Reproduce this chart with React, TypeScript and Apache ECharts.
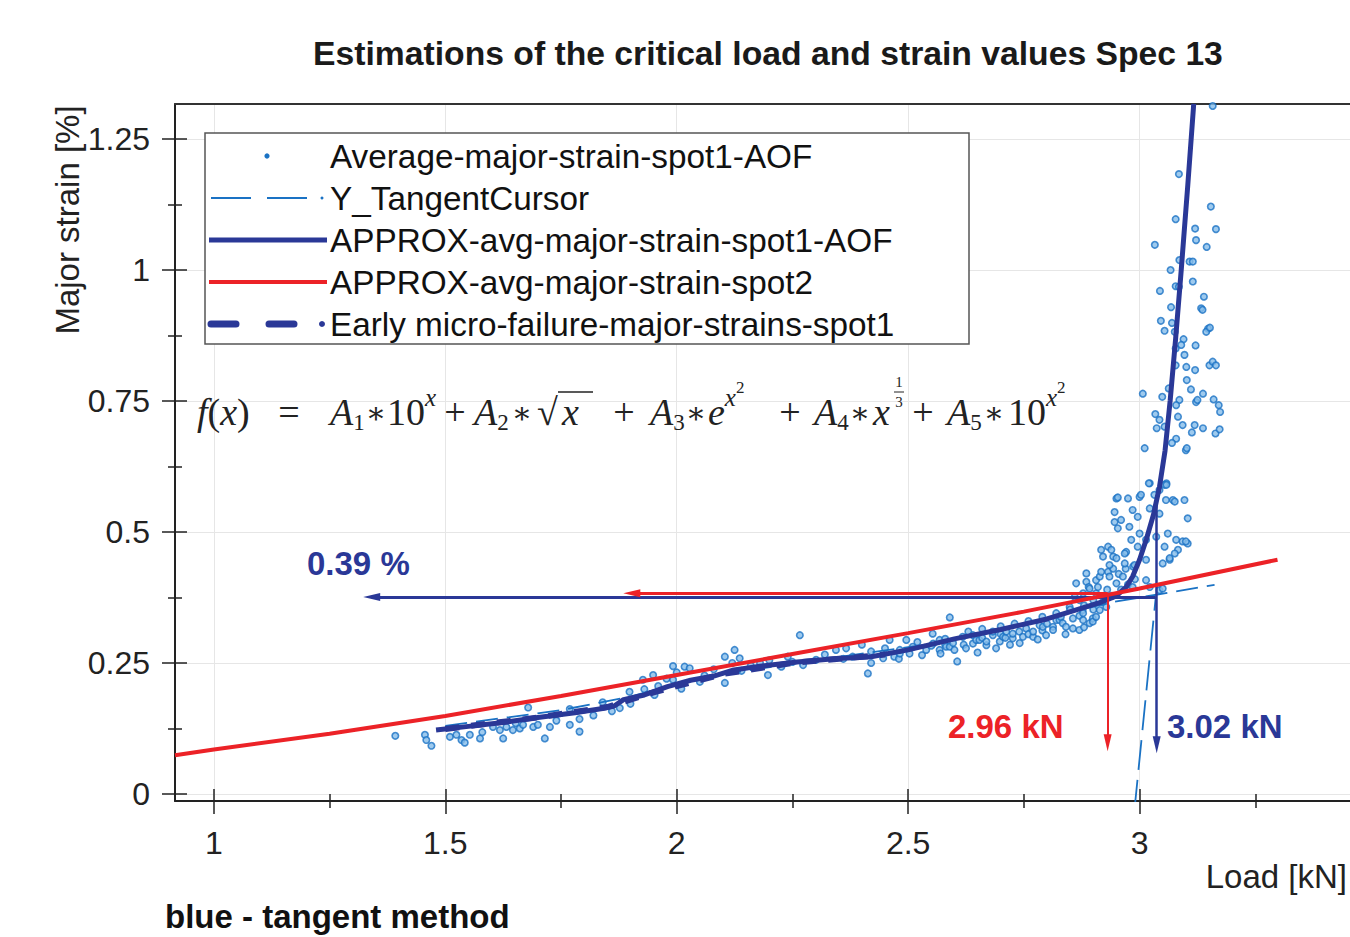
import React, { useEffect, useRef } from "react";
import * as echarts from "echarts";

const TITLE = "Estimations of the critical load and strain values Spec 13";
const X_NAME = "Load [kN]";
const Y_NAME = "Major strain [%]";
const NOTE = "blue - tangent method";

const X_RANGE = [0.916, 3.5];
const Y_RANGE = [-0.0134, 1.3168];
const X_MAJOR = [1, 1.5, 2, 2.5, 3];
const X_MINOR = [1.25, 1.75, 2.25, 2.75, 3.25];
const Y_MAJOR = [0, 0.25, 0.5, 0.75, 1, 1.25];
const Y_MINOR = [0.125, 0.375, 0.625, 0.875, 1.125];

const LEGEND_NAMES = [
  "Average-major-strain-spot1-AOF",
  "Y_TangentCursor",
  "APPROX-avg-major-strain-spot1-AOF",
  "APPROX-avg-major-strain-spot2",
  "Early micro-failure-major-strains-spot1",
];

// measured points: [load kN, major strain %]
const scatterAOF: [number, number][] = [
  [1.392, 0.111], [1.456, 0.113], [1.459, 0.103], [1.47, 0.092], [1.51, 0.109], [1.524, 0.113], [1.535, 0.103],
  [1.542, 0.098], [1.553, 0.113], [1.575, 0.106], [1.58, 0.118], [1.603, 0.128], [1.618, 0.122], [1.625, 0.106],
  [1.632, 0.128], [1.646, 0.122], [1.652, 0.135], [1.661, 0.125], [1.668, 0.132], [1.679, 0.165], [1.69, 0.128],
  [1.7, 0.132], [1.715, 0.106], [1.726, 0.128], [1.74, 0.14], [1.769, 0.132], [1.769, 0.162], [1.79, 0.119],
  [1.79, 0.143], [1.82, 0.15], [1.84, 0.175], [1.86, 0.158], [1.877, 0.164], [1.898, 0.195], [1.9, 0.172],
  [1.927, 0.218], [1.93, 0.2], [1.949, 0.227], [1.952, 0.189], [1.96, 0.206], [1.978, 0.22], [1.992, 0.244],
  [1.992, 0.218], [2.0, 0.232], [2.01, 0.201], [2.017, 0.243], [2.028, 0.24], [2.05, 0.214], [2.06, 0.226],
  [2.08, 0.238],
  [2.104, 0.262], [2.104, 0.212], [2.12, 0.25], [2.125, 0.275], [2.136, 0.259], [2.14, 0.235], [2.16, 0.245],
  [2.18, 0.25], [2.197, 0.227], [2.2, 0.255], [2.226, 0.243], [2.24, 0.262], [2.25, 0.252], [2.266, 0.303],
  [2.273, 0.246], [2.301, 0.256], [2.32, 0.266], [2.344, 0.275], [2.36, 0.258], [2.366, 0.278], [2.38, 0.262],
  [2.4, 0.285], [2.413, 0.23], [2.42, 0.272], [2.42, 0.25], [2.446, 0.259], [2.45, 0.278], [2.46, 0.294],
  [2.47, 0.262], [2.48, 0.258], [2.482, 0.268], [2.482, 0.275], [2.496, 0.294], [2.503, 0.268], [2.51, 0.281],
  [2.52, 0.29], [2.53, 0.265], [2.539, 0.275], [2.553, 0.306], [2.554, 0.287], [2.55, 0.283], [2.568, 0.294],
  [2.568, 0.275], [2.57, 0.268], [2.58, 0.296], [2.58, 0.285], [2.582, 0.281], [2.59, 0.337], [2.59, 0.281],
  [2.597, 0.288], [2.6, 0.275], [2.606, 0.253],
  [2.618, 0.3], [2.62, 0.285], [2.625, 0.278], [2.63, 0.31], [2.64, 0.287], [2.64, 0.303], [2.647, 0.294],
  [2.65, 0.27], [2.654, 0.294], [2.66, 0.315], [2.66, 0.298], [2.669, 0.284], [2.669, 0.291], [2.683, 0.303],
  [2.683, 0.31], [2.69, 0.278], [2.698, 0.291], [2.7, 0.32], [2.7, 0.305], [2.705, 0.3], [2.71, 0.298],
  [2.712, 0.31], [2.72, 0.285], [2.726, 0.297], [2.726, 0.306], [2.73, 0.325], [2.74, 0.31], [2.741, 0.288],
  [2.748, 0.3], [2.755, 0.316], [2.76, 0.33], [2.76, 0.305], [2.77, 0.3], [2.77, 0.31], [2.78, 0.295],
  [2.784, 0.322], [2.79, 0.338], [2.79, 0.312], [2.791, 0.319], [2.798, 0.303], [2.8, 0.325], [2.813, 0.319],
  [2.813, 0.313], [2.82, 0.345], [2.82, 0.332], [2.827, 0.332], [2.83, 0.338], [2.834, 0.326], [2.84, 0.305],
  [2.841, 0.319], [2.849, 0.357], [2.85, 0.352], [2.856, 0.335], [2.856, 0.316], [2.86, 0.376], [2.863, 0.402],
  [2.87, 0.313], [2.87, 0.34], [2.87, 0.37], [2.877, 0.351], [2.878, 0.332], [2.878, 0.345], [2.878, 0.383],
  [2.88, 0.36], [2.88, 0.318], [2.885, 0.421], [2.885, 0.405], [2.89, 0.395], [2.892, 0.326], [2.892, 0.392],
  [2.899, 0.335], [2.899, 0.329], [2.9, 0.37], [2.9, 0.352], [2.906, 0.338], [2.906, 0.408], [2.906, 0.383],
  [2.91, 0.395], [2.914, 0.351], [2.914, 0.415], [2.917, 0.424], [2.92, 0.366], [2.928, 0.357], [2.93, 0.39],
  [2.932, 0.424], [2.935, 0.415], [2.94, 0.378], [2.943, 0.43], [2.95, 0.402], [2.955, 0.42], [2.96, 0.39],
  [2.964, 0.415], [2.97, 0.43], [2.975, 0.4], [2.985, 0.395], [2.99, 0.41], [3.014, 0.408], [3.022, 0.395],
  [3.043, 0.389], [3.05, 0.392],
  [2.917, 0.466], [2.932, 0.472], [2.943, 0.453], [2.971, 0.462], [2.986, 0.434], [2.95, 0.564], [2.975, 0.564],
  [3.0, 0.567], [3.022, 0.593], [3.043, 0.58], [3.058, 0.593], [3.072, 0.561], [3.097, 0.561], [3.104, 0.526],
  [3.093, 0.482], [3.104, 0.478], [3.083, 0.466], [3.065, 0.447], [3.011, 0.66], [3.1, 0.656], [3.054, 0.59],
  [2.953, 0.566], [3.003, 0.571], [3.032, 0.571], [3.057, 0.561], [3.076, 0.558], [2.946, 0.538], [2.96, 0.523],
  [2.985, 0.542], [2.996, 0.529], [3.022, 0.545], [3.043, 0.535], [2.946, 0.519], [2.953, 0.507], [2.978, 0.51],
  [3.0, 0.497], [2.982, 0.485], [2.996, 0.472], [2.968, 0.459], [3.014, 0.485], [3.036, 0.491], [3.054, 0.472],
  [3.061, 0.497], [3.079, 0.485], [3.076, 0.459], [3.1, 0.482], [2.921, 0.453], [2.939, 0.466], [2.95, 0.45],
  [2.935, 0.437], [2.968, 0.44], [2.989, 0.437], [3.014, 0.447], [3.05, 0.44], [3.065, 0.45],
  [3.158, 1.313], [3.085, 1.183], [3.154, 1.121], [3.078, 1.097], [3.12, 1.079], [3.165, 1.078], [3.122, 1.057],
  [3.145, 1.044], [3.033, 1.048], [3.086, 1.019], [3.108, 1.016], [3.115, 1.016], [3.067, 1.0], [3.115, 0.978],
  [3.044, 0.96], [3.078, 0.969], [3.085, 0.968], [3.139, 0.949], [3.068, 0.929], [3.133, 0.927], [3.136, 0.924],
  [3.046, 0.903], [3.07, 0.899], [3.054, 0.884], [3.148, 0.888], [3.144, 0.882], [3.152, 0.89], [3.076, 0.882],
  [3.095, 0.868], [3.09, 0.857], [3.121, 0.856], [3.078, 0.85], [3.097, 0.838], [3.078, 0.818], [3.101, 0.815],
  [3.12, 0.809], [3.151, 0.818], [3.158, 0.825], [3.165, 0.818], [3.102, 0.79], [3.111, 0.772], [3.063, 0.774],
  [3.007, 0.764], [3.049, 0.758], [3.137, 0.764], [3.16, 0.753], [3.122, 0.748], [3.125, 0.752], [3.086, 0.752],
  [3.079, 0.742], [3.171, 0.742], [3.174, 0.729], [3.034, 0.725], [3.043, 0.714], [3.037, 0.698], [3.054, 0.701],
  [3.083, 0.72], [3.093, 0.704], [3.119, 0.704], [3.113, 0.69], [3.137, 0.698], [3.164, 0.688], [3.173, 0.696],
  [3.079, 0.678], [3.07, 0.67], [3.102, 0.66], [3.02, 0.593], [3.058, 0.59],
];

const approxAOF: [number, number][] = [
  [1.48, 0.122], [1.55, 0.129], [1.62, 0.136], [1.7, 0.146], [1.78, 0.155], [1.84, 0.163], [1.865, 0.168],
  [1.885, 0.18], [1.93, 0.189], [1.98, 0.205], [2.03, 0.217], [2.08, 0.225], [2.12, 0.236], [2.18, 0.244],
  [2.26, 0.252], [2.34, 0.258], [2.42, 0.262], [2.5, 0.275], [2.6, 0.296], [2.7, 0.314], [2.8, 0.334],
  [2.914, 0.365], [2.95, 0.378], [2.971, 0.395], [2.985, 0.415], [3.0, 0.447], [3.015, 0.487], [3.03, 0.533],
  [3.043, 0.586], [3.055, 0.655], [3.066, 0.75], [3.078, 0.87], [3.09, 1.0], [3.104, 1.16], [3.117, 1.317],
];

const approxSpot2: [number, number][] = [
  [0.916, 0.074], [1.0, 0.085], [1.25, 0.115], [1.5, 0.149], [1.75, 0.187], [2.0, 0.227], [2.25, 0.267],
  [2.5, 0.307], [2.75, 0.348], [3.0, 0.392], [3.298, 0.447],
];

const tangentShallow: [number, number][] = [
  [1.5, 0.13], [1.75, 0.16], [1.9, 0.186], [2.05, 0.222], [2.3, 0.255], [2.6, 0.293], [2.94, 0.366], [3.162, 0.399],
];
const tangentSteep: [number, number][] = [[2.989, -0.03], [3.035, 0.376]];

const earlyMicro: [number, number][] = [
  [1.5, 0.124], [1.7, 0.146], [1.85, 0.166], [1.95, 0.194], [2.1, 0.229], [2.25, 0.25], [2.45, 0.266],
];

// critical-value arrows: [from, to]
const arrowBlueH: [number, number][] = [[3.035, 0.376], [1.341, 0.376]];
const arrowBlueV: [number, number][] = [[3.037, 0.57], [3.037, 0.094]];
const arrowRedH: [number, number][] = [[2.931, 0.383], [1.903, 0.383]];
const arrowRedV: [number, number][] = [[2.931, 0.383], [2.931, 0.098]];

const LABEL_STRAIN = "0.39 %";
const LABEL_RED = "2.96 kN";
const LABEL_BLUE = "3.02 kN";

const C_SCATTER = "#1a72c4";
const C_DARK = "#2a3897";
const C_RED = "#ec2227";
const SANS = "'Liberation Sans', Arial, sans-serif";
const SERIF = "'Liberation Serif', 'DejaVu Serif', serif";

function tickAxis(dim: "x" | "y", values: number[], inside: boolean, length: number) {
  const r = dim === "x" ? X_RANGE : Y_RANGE;
  return {
    type: "value",
    min: r[0],
    max: r[1],
    position: dim === "x" ? "bottom" : "left",
    axisLine: { show: false, onZero: false },
    axisTick: { show: true, inside, length, customValues: values, lineStyle: { color: "#222", width: 1.5 } },
    axisLabel: { show: false },
    splitLine: { show: false },
  };
}

function buildOption() {
  const mainX = {
    type: "value",
    min: X_RANGE[0],
    max: X_RANGE[1],
    position: "bottom",
    axisLine: { show: true, onZero: false, lineStyle: { color: "#222", width: 2 } },
    axisTick: { show: true, inside: false, length: 13, customValues: X_MAJOR, lineStyle: { color: "#222", width: 1.5 } },
    axisLabel: { show: true, customValues: X_MAJOR, margin: 26, fontSize: 32, color: "#222", fontFamily: SANS },
    splitLine: { show: true, lineStyle: { color: "#e6e6e6", width: 1 } },
  };
  const topX = {
    type: "value",
    min: X_RANGE[0],
    max: X_RANGE[1],
    position: "top",
    axisLine: { show: true, onZero: false, lineStyle: { color: "#333", width: 2 } },
    axisTick: { show: false },
    axisLabel: { show: false },
    splitLine: { show: false },
  };
  const mainY = {
    type: "value",
    min: Y_RANGE[0],
    max: Y_RANGE[1],
    position: "left",
    axisLine: { show: true, onZero: false, lineStyle: { color: "#222", width: 2 } },
    axisTick: { show: true, inside: false, length: 13, customValues: Y_MAJOR, lineStyle: { color: "#222", width: 1.5 } },
    axisLabel: { show: true, customValues: Y_MAJOR, margin: 25, fontSize: 32, color: "#222", fontFamily: SANS },
    splitLine: { show: true, lineStyle: { color: "#e6e6e6", width: 1 } },
  };

  const base = { fontFamily: SERIF, fill: "#222", verticalAlign: "middle" };
  const eqRich: any = {
    i: { ...base, fontSize: 38, fontStyle: "italic" },
    u: { ...base, fontSize: 38 },
    op: { ...base, fontSize: 30 },
    sub: { ...base, fontSize: 23, padding: [20, 0, 0, 0] },
    sup: { ...base, fontSize: 25, fontStyle: "italic", padding: [0, 0, 30, 0] },
    sup2: { ...base, fontSize: 17, padding: [0, 0, 50, 0] },
  };
  // [x, text, align]
  const eqPieces: [number, string, string][] = [
    [197, "{i|f}{u|(}{i|x}{u|)}", "left"],
    [289, "{u|=}", "center"],
    [330, "{i|A}{sub|1}", "left"],
    [376, "{op|∗}", "center"],
    [387, "{u|10}{sup|x}", "left"],
    [455, "{u|+}", "center"],
    [474, "{i|A}{sub|2}", "left"],
    [522, "{op|∗}", "center"],
    [537, "{u|√}", "left"],
    [562, "{i|x}", "left"],
    [624, "{u|+}", "center"],
    [650, "{i|A}{sub|3}", "left"],
    [696, "{op|∗}", "center"],
    [708, "{i|e}{sup|x}{sup2|2}", "left"],
    [790, "{u|+}", "center"],
    [814, "{i|A}{sub|4}", "left"],
    [860, "{op|∗}", "center"],
    [873, "{i|x}", "left"],
    [923, "{u|+}", "center"],
    [947, "{i|A}{sub|5}", "left"],
    [994, "{op|∗}", "center"],
    [1008, "{u|10}{sup|x}{sup2|2}", "left"],
  ];
  const EQ_Y = 412;
  const eqGraphics: any[] = eqPieces.map(([x, t, a]) => ({
    type: "text",
    x,
    y: EQ_Y,
    z: 50,
    style: { text: t, rich: eqRich, align: a, verticalAlign: "middle" },
  }));
  eqGraphics.push(
    { type: "line", z: 50, shape: { x1: 558, y1: 392, x2: 593, y2: 392 }, style: { stroke: "#222", lineWidth: 1.6 } },
    { type: "text", x: 899, y: 382, z: 50, style: { text: "1", fontSize: 15, fontFamily: SERIF, fill: "#222", align: "center", verticalAlign: "middle" } },
    { type: "line", z: 50, shape: { x1: 894, y1: 392, x2: 904, y2: 392 }, style: { stroke: "#222", lineWidth: 1 } },
    { type: "text", x: 899, y: 402, z: 50, style: { text: "3", fontSize: 15, fontFamily: SERIF, fill: "#222", align: "center", verticalAlign: "middle" } }
  );

  const rows = [156, 198, 240, 282, 324];
  const legendGraphics: any[] = [
    { type: "rect", z: 60, shape: { x: 205, y: 133, width: 764, height: 211 }, style: { fill: "#fff", stroke: "#555", lineWidth: 1.5 } },
    { type: "circle", z: 61, shape: { cx: 267, cy: rows[0], r: 2.6 }, style: { fill: C_SCATTER } },
    { type: "line", z: 61, shape: { x1: 211, y1: rows[1], x2: 307, y2: rows[1] }, style: { stroke: C_SCATTER, lineWidth: 2, lineDash: [40, 16] } },
    { type: "circle", z: 61, shape: { cx: 322, cy: rows[1], r: 1.5 }, style: { fill: C_SCATTER } },
    { type: "line", z: 61, shape: { x1: 209, y1: rows[2], x2: 327, y2: rows[2] }, style: { stroke: C_DARK, lineWidth: 5 } },
    { type: "line", z: 61, shape: { x1: 209, y1: rows[3], x2: 327, y2: rows[3] }, style: { stroke: C_RED, lineWidth: 4 } },
    { type: "line", z: 61, shape: { x1: 211, y1: rows[4], x2: 294, y2: rows[4] }, style: { stroke: C_DARK, lineWidth: 7, lineDash: [25, 33], lineCap: "round" } },
    { type: "circle", z: 61, shape: { cx: 322, cy: rows[4], r: 3 }, style: { fill: C_DARK } },
  ];
  LEGEND_NAMES.forEach((name, i) => {
    legendGraphics.push({
      type: "text",
      x: 330,
      y: rows[i],
      z: 62,
      style: { text: name, fontSize: 33.3, fontFamily: SANS, fill: "#111", align: "left", verticalAlign: "middle" },
    });
  });

  const textGraphics: any[] = [
    { type: "text", x: 67, y: 220, rotation: Math.PI / 2, style: { text: Y_NAME, fontSize: 33, fontFamily: SANS, fill: "#222", align: "center", verticalAlign: "middle" } },
    { type: "text", x: 1347, y: 876, style: { text: X_NAME, fontSize: 33, fontFamily: SANS, fill: "#222", align: "right", verticalAlign: "middle" } },
    { type: "text", x: 165, y: 916, style: { text: NOTE, fontSize: 33, fontWeight: "bold", fontFamily: SANS, fill: "#111", align: "left", verticalAlign: "middle" } },
    { type: "text", x: 307, y: 563, z: 50, style: { text: LABEL_STRAIN, fontSize: 33, fontWeight: "bold", fontFamily: SANS, fill: C_DARK, align: "left", verticalAlign: "middle" } },
    { type: "text", x: 948, y: 726, z: 50, style: { text: LABEL_RED, fontSize: 33, fontWeight: "bold", fontFamily: SANS, fill: C_RED, align: "left", verticalAlign: "middle" } },
    { type: "text", x: 1167, y: 726, z: 50, style: { text: LABEL_BLUE, fontSize: 33, fontWeight: "bold", fontFamily: SANS, fill: C_DARK, align: "left", verticalAlign: "middle" } },
  ];

  const arrow = (pts: [number, number][], color: string, width: number) => [
    { coord: pts[0], symbol: "none", lineStyle: { color, width, type: "solid" } },
    { coord: pts[1], symbol: "triangle", symbolSize: [8, 17], itemStyle: { color } },
  ];

  return {
    animation: false,
    backgroundColor: "#ffffff",
    title: {
      text: TITLE,
      left: 313,
      top: 36,
      padding: 0,
      textStyle: { fontSize: 33.7, fontWeight: "bold", color: "#1a1a1a", fontFamily: SANS },
    },
    grid: { left: 175, top: 104, width: 1196, height: 697, show: false, containLabel: false, outerBoundsMode: "none" },
    xAxis: [
      mainX,
      tickAxis("x", X_MAJOR, true, 12),
      tickAxis("x", X_MINOR, false, 7),
      tickAxis("x", X_MINOR, true, 7),
      topX,
    ],
    yAxis: [
      mainY,
      tickAxis("y", Y_MAJOR, true, 12),
      tickAxis("y", Y_MINOR, false, 7),
      tickAxis("y", Y_MINOR, true, 7),
    ],
    series: [
      {
        name: LEGEND_NAMES[0],
        type: "scatter",
        data: scatterAOF,
        symbol: "circle",
        symbolSize: 6.5,
        itemStyle: { color: "#86bdea", borderColor: C_SCATTER, borderWidth: 1.6 },
        z: 2,
      },
      {
        name: LEGEND_NAMES[1],
        type: "line",
        data: tangentShallow,
        symbol: "none",
        lineStyle: { color: C_SCATTER, width: 1.8, type: [22, 9] },
        z: 3,
      },
      {
        name: LEGEND_NAMES[1],
        type: "line",
        data: tangentSteep,
        symbol: "none",
        lineStyle: { color: C_SCATTER, width: 1.8, type: [30, 10] },
        z: 3,
      },
      {
        name: LEGEND_NAMES[2],
        type: "line",
        data: approxAOF,
        symbol: "none",
        lineStyle: { color: C_DARK, width: 5 },
        z: 4,
      },
      {
        name: LEGEND_NAMES[4],
        type: "line",
        data: earlyMicro,
        symbol: "none",
        lineStyle: { color: C_DARK, width: 6, type: [14, 12] },
        z: 4,
      },
      {
        name: LEGEND_NAMES[3],
        type: "line",
        data: approxSpot2,
        symbol: "none",
        lineStyle: { color: C_RED, width: 4 },
        z: 5,
      },
      {
        name: "critical-values",
        type: "line",
        data: [],
        symbol: "none",
        z: 6,
        markLine: {
          silent: true,
          symbol: ["none", "triangle"],
          label: { show: false },
          data: [
            arrow(arrowBlueH, C_DARK, 3),
            arrow(arrowBlueV, C_DARK, 2.5),
            arrow(arrowRedH, C_RED, 3),
            arrow(arrowRedV, C_RED, 2),
          ],
        },
      },
    ],
    graphic: [...eqGraphics, ...legendGraphics, ...textGraphics],
  };
}

export default function App() {
  const ref = useRef<HTMLDivElement>(null);
  useEffect(() => {
    if (!ref.current) return;
    const chart = echarts.init(ref.current, null, { renderer: "svg" });
    chart.setOption(buildOption() as any);
    return () => chart.dispose();
  }, []);
  return (
    <div
      ref={ref}
      style={{ position: "fixed", left: 0, top: 0, width: 1350, height: 937, background: "#fff" }}
    />
  );
}
